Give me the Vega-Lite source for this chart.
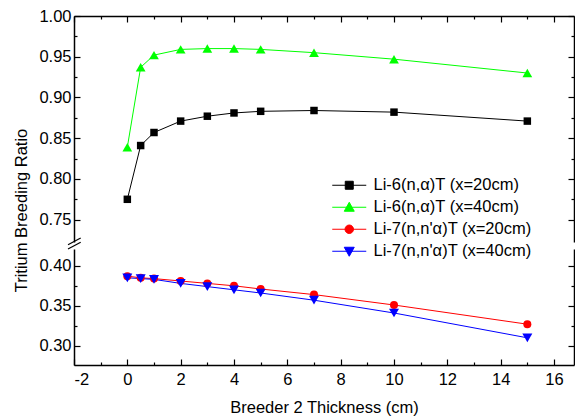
{
  "$schema": "https://vega.github.io/schema/vega-lite/v6.json",
  "background": "white",
  "padding": {"left": 13, "top": 8, "right": 0, "bottom": 0},
  "bounds": "flush",
  "datasets": {
    "li6": [
      {"x": 0, "y": 0.775, "series": "Li-6(n,α)T (x=20cm)"},
      {"x": 0.5, "y": 0.841, "series": "Li-6(n,α)T (x=20cm)"},
      {"x": 1, "y": 0.857, "series": "Li-6(n,α)T (x=20cm)"},
      {"x": 2, "y": 0.871, "series": "Li-6(n,α)T (x=20cm)"},
      {"x": 3, "y": 0.877, "series": "Li-6(n,α)T (x=20cm)"},
      {"x": 4, "y": 0.881, "series": "Li-6(n,α)T (x=20cm)"},
      {"x": 5, "y": 0.883, "series": "Li-6(n,α)T (x=20cm)"},
      {"x": 7, "y": 0.884, "series": "Li-6(n,α)T (x=20cm)"},
      {"x": 10, "y": 0.882, "series": "Li-6(n,α)T (x=20cm)"},
      {"x": 15, "y": 0.871, "series": "Li-6(n,α)T (x=20cm)"},
      {"x": 0, "y": 0.839, "series": "Li-6(n,α)T (x=40cm)"},
      {"x": 0.5, "y": 0.937, "series": "Li-6(n,α)T (x=40cm)"},
      {"x": 1, "y": 0.952, "series": "Li-6(n,α)T (x=40cm)"},
      {"x": 2, "y": 0.959, "series": "Li-6(n,α)T (x=40cm)"},
      {"x": 3, "y": 0.960, "series": "Li-6(n,α)T (x=40cm)"},
      {"x": 4, "y": 0.960, "series": "Li-6(n,α)T (x=40cm)"},
      {"x": 5, "y": 0.959, "series": "Li-6(n,α)T (x=40cm)"},
      {"x": 7, "y": 0.955, "series": "Li-6(n,α)T (x=40cm)"},
      {"x": 10, "y": 0.947, "series": "Li-6(n,α)T (x=40cm)"},
      {"x": 15, "y": 0.930, "series": "Li-6(n,α)T (x=40cm)"}
    ],
    "li7": [
      {"x": 0, "y": 0.387, "series": "Li-7(n,n'α)T (x=20cm)"},
      {"x": 0.5, "y": 0.385, "series": "Li-7(n,n'α)T (x=20cm)"},
      {"x": 1, "y": 0.384, "series": "Li-7(n,n'α)T (x=20cm)"},
      {"x": 2, "y": 0.381, "series": "Li-7(n,n'α)T (x=20cm)"},
      {"x": 3, "y": 0.378, "series": "Li-7(n,n'α)T (x=20cm)"},
      {"x": 4, "y": 0.375, "series": "Li-7(n,n'α)T (x=20cm)"},
      {"x": 5, "y": 0.371, "series": "Li-7(n,n'α)T (x=20cm)"},
      {"x": 7, "y": 0.364, "series": "Li-7(n,n'α)T (x=20cm)"},
      {"x": 10, "y": 0.351, "series": "Li-7(n,n'α)T (x=20cm)"},
      {"x": 15, "y": 0.327, "series": "Li-7(n,n'α)T (x=20cm)"},
      {"x": 0, "y": 0.385, "series": "Li-7(n,n'α)T (x=40cm)"},
      {"x": 0.5, "y": 0.384, "series": "Li-7(n,n'α)T (x=40cm)"},
      {"x": 1, "y": 0.383, "series": "Li-7(n,n'α)T (x=40cm)"},
      {"x": 2, "y": 0.378, "series": "Li-7(n,n'α)T (x=40cm)"},
      {"x": 3, "y": 0.374, "series": "Li-7(n,n'α)T (x=40cm)"},
      {"x": 4, "y": 0.370, "series": "Li-7(n,n'α)T (x=40cm)"},
      {"x": 5, "y": 0.366, "series": "Li-7(n,n'α)T (x=40cm)"},
      {"x": 7, "y": 0.357, "series": "Li-7(n,n'α)T (x=40cm)"},
      {"x": 10, "y": 0.341, "series": "Li-7(n,n'α)T (x=40cm)"},
      {"x": 15, "y": 0.310, "series": "Li-7(n,n'α)T (x=40cm)"}
    ]
  },
  "config": {
    "view": {"stroke": null},
    "font": "Liberation Sans",
    "axis": {
      "grid": false,
      "labelFont": "Liberation Sans",
      "labelFontSize": 16.5,
      "labelColor": "black",
      "titleFont": "Liberation Sans",
      "titleFontSize": 16.5,
      "titleFontWeight": "normal",
      "titleColor": "black",
      "domainColor": "black",
      "domainWidth": 1.5,
      "tickColor": "black",
      "tickWidth": 1.2
    }
  },
  "spacing": 7,
  "resolve": {
    "scale": {"color": "independent", "shape": "independent", "size": "independent"},
    "legend": {"color": "independent", "shape": "independent", "size": "independent"}
  },
  "vconcat": [
    {
      "width": 500,
      "height": 226,
      "data": {"name": "li6"},
      "resolve": {"axis": {"x": "independent", "y": "independent"}},
      "layer": [
        {
          "mark": {"type": "line", "strokeWidth": 1},
          "encoding": {
            "x": {
              "field": "x", "type": "quantitative",
              "scale": {"domain": [-2, 16.75], "nice": false, "zero": false},
              "axis": {
                "orient": "top", "title": null, "labels": false,
                "values": [-2, -1, 0, 1, 2, 3, 4, 5, 6, 7, 8, 9, 10, 11, 12, 13, 14, 15, 16],
                "tickSize": {"condition": {"test": "datum.value % 2 == 0", "value": -6}, "value": -3}
              }
            },
            "y": {
              "field": "y", "type": "quantitative",
              "scale": {"domain": [0.7226, 1.0], "nice": false, "zero": false},
              "axis": {
                "orient": "left",
                "values": [0.75, 0.775, 0.8, 0.825, 0.85, 0.875, 0.9, 0.925, 0.95, 0.975, 1.0],
                "labelExpr": "abs(datum.value*20-round(datum.value*20))<0.001 ? format(datum.value,'.2f') : ''",
                "tickSize": {"condition": {"test": "abs(datum.value*20-round(datum.value*20))<0.001", "value": -6}, "value": -3},
                "labelPadding": 9,
                "title": "Tritium Breeding Ratio",
                "titleAngle": -90,
                "titleAlign": "center",
                "titleBaseline": "alphabetic",
                "titleX": -47.5,
                "titleY": 194
              }
            },
            "color": {
              "field": "series", "type": "nominal",
              "scale": {
                "domain": ["Li-6(n,α)T (x=20cm)", "Li-6(n,α)T (x=40cm)", "Li-7(n,n'α)T (x=20cm)", "Li-7(n,n'α)T (x=40cm)"],
                "range": ["#000000", "#00ff00", "#ff0000", "#0000ff"]
              },
              "legend": {
                "title": null,
                "orient": "none",
                "legendX": 267,
                "legendY": 161,
                "padding": 0,
                "symbolSize": 100,
                "symbolStrokeWidth": 1,
                "labelOffset": 16,
                "labelFont": "Liberation Sans",
                "labelFontSize": 16.5,
                "labelColor": "black",
                "rowPadding": 5,
                "encode": {
                  "symbols": {
                    "update": {
                      "shape": {"signal": "datum.value == 'Li-6(n,α)T (x=20cm)' ? 'M-3.4,0H3.4M-0.8,-0.8H0.8V0.8H-0.8Z' : datum.value == 'Li-6(n,α)T (x=40cm)' ? 'M-3.4,0H3.4M0,-1L1,0.8H-1Z' : datum.value == \"Li-7(n,n'α)T (x=20cm)\" ? 'M-3.4,0H3.4M-0.85,0A0.85,0.85,0,1,0,0.85,0A0.85,0.85,0,1,0,-0.85,0Z' : 'M-3.4,0H3.4M0,1L1,-0.8H-1Z'"},
                      "fill": {"signal": "datum.value == 'Li-6(n,α)T (x=20cm)' ? '#000000' : datum.value == 'Li-6(n,α)T (x=40cm)' ? '#00ff00' : datum.value == \"Li-7(n,n'α)T (x=20cm)\" ? '#ff0000' : '#0000ff'"},
                      "stroke": {"signal": "datum.value == 'Li-6(n,α)T (x=20cm)' ? '#000000' : datum.value == 'Li-6(n,α)T (x=40cm)' ? '#00ff00' : datum.value == \"Li-7(n,n'α)T (x=20cm)\" ? '#ff0000' : '#0000ff'"},
                      "opacity": {"value": 1},
                      "strokeWidth": {"value": 1}
                    }
                  }
                }
              }
            }
          }
        },
        {
          "mark": {"type": "point", "filled": true, "opacity": 1},
          "encoding": {
            "x": {"field": "x", "type": "quantitative", "axis": null},
            "y": {
              "field": "y", "type": "quantitative",
              "axis": {
                "orient": "right", "title": null, "labels": false,
                "values": [0.75, 0.775, 0.8, 0.825, 0.85, 0.875, 0.9, 0.925, 0.95, 0.975, 1.0],
                "tickSize": {"condition": {"test": "abs(datum.value*20-round(datum.value*20))<0.001", "value": -6}, "value": -3}
              }
            },
            "color": {"field": "series", "type": "nominal"},
            "shape": {
              "field": "series", "type": "nominal",
              "scale": {"domain": ["Li-6(n,α)T (x=20cm)", "Li-6(n,α)T (x=40cm)"], "range": ["square", "triangle-up"]},
              "legend": null
            },
            "size": {
              "field": "series", "type": "nominal",
              "scale": {"domain": ["Li-6(n,α)T (x=20cm)", "Li-6(n,α)T (x=40cm)"], "range": [56, 95]},
              "legend": null
            }
          }
        },
        {
          "data": {"values": [{}]},
          "mark": {"type": "rule", "color": "black", "strokeWidth": 1.2},
          "encoding": {
            "x": {"datum": -2.225, "type": "quantitative", "axis": null},
            "x2": {"datum": -1.749},
            "y": {"datum": 0.7193, "type": "quantitative", "axis": null},
            "y2": {"datum": 0.7275}
          }
        },
        {
          "data": {"values": [{}]},
          "mark": {"type": "rule", "color": "black", "strokeWidth": 1.2},
          "encoding": {
            "x": {"datum": -2.225, "type": "quantitative", "axis": null},
            "x2": {"datum": -1.749},
            "y": {"datum": 0.7140, "type": "quantitative", "axis": null},
            "y2": {"datum": 0.7222}
          }
        }
      ]
    },
    {
      "width": 500,
      "height": 116,
      "data": {"name": "li7"},
      "resolve": {"axis": {"x": "independent", "y": "independent"}},
      "layer": [
        {
          "mark": {"type": "line", "strokeWidth": 1},
          "encoding": {
            "x": {
              "field": "x", "type": "quantitative",
              "scale": {"domain": [-2, 16.75], "nice": false, "zero": false},
              "axis": {
                "orient": "bottom",
                "values": [-2, -1, 0, 1, 2, 3, 4, 5, 6, 7, 8, 9, 10, 11, 12, 13, 14, 15, 16],
                "labelExpr": "datum.value % 2 == 0 ? (datum.value < 0 ? '-' + abs(datum.value) : '' + datum.value) : ''",
                "tickSize": {"condition": {"test": "datum.value % 2 == 0", "value": -6}, "value": -3},
                "labelPadding": 12,
                "title": "Breeder 2 Thickness (cm)",
                "titlePadding": 12
              }
            },
            "y": {
              "field": "y", "type": "quantitative",
              "scale": {"domain": [0.276, 0.421], "nice": false, "zero": false},
              "axis": {
                "orient": "left", "title": null,
                "values": [0.3, 0.325, 0.35, 0.375, 0.4],
                "labelExpr": "abs(datum.value*20-round(datum.value*20))<0.001 ? format(datum.value,'.2f') : ''",
                "tickSize": {"condition": {"test": "abs(datum.value*20-round(datum.value*20))<0.001", "value": -6}, "value": -3},
                "labelPadding": 9
              }
            },
            "color": {
              "field": "series", "type": "nominal",
              "scale": {
                "domain": ["Li-6(n,α)T (x=20cm)", "Li-6(n,α)T (x=40cm)", "Li-7(n,n'α)T (x=20cm)", "Li-7(n,n'α)T (x=40cm)"],
                "range": ["#000000", "#00ff00", "#ff0000", "#0000ff"]
              },
              "legend": null
            }
          }
        },
        {
          "mark": {"type": "point", "filled": true, "opacity": 1},
          "encoding": {
            "x": {"field": "x", "type": "quantitative", "axis": null},
            "y": {
              "field": "y", "type": "quantitative",
              "axis": {
                "orient": "right", "title": null, "labels": false,
                "values": [0.3, 0.325, 0.35, 0.375, 0.4],
                "tickSize": {"condition": {"test": "abs(datum.value*20-round(datum.value*20))<0.001", "value": -6}, "value": -3}
              }
            },
            "color": {"field": "series", "type": "nominal", "legend": null},
            "shape": {
              "field": "series", "type": "nominal",
              "scale": {"domain": ["Li-7(n,n'α)T (x=20cm)", "Li-7(n,n'α)T (x=40cm)"], "range": ["circle", "triangle-down"]},
              "legend": null
            },
            "size": {
              "field": "series", "type": "nominal",
              "scale": {"domain": ["Li-7(n,n'α)T (x=20cm)", "Li-7(n,n'α)T (x=40cm)"], "range": [64, 100]},
              "legend": null
            }
          }
        }
      ]
    }
  ]
}
